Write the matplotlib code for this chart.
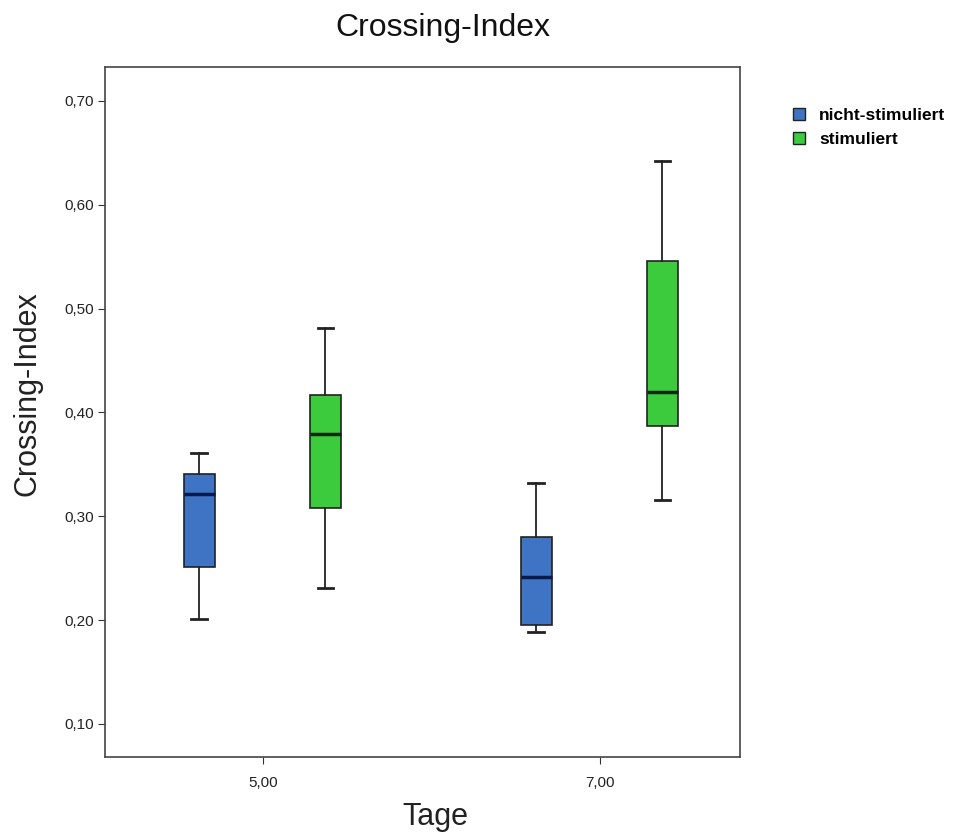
import matplotlib
matplotlib.use("Agg")
import matplotlib.pyplot as plt
from matplotlib.patches import Patch

plt.rcParams['font.family'] = ['Liberation Sans', 'DejaVu Sans']

# --- data
days = ["5,00", "7,00"]
groups = ["nicht-stimuliert", "stimuliert"]
colors = ["#3F74C4", "#3CCB3C"]
median_colors = ["#0A1A4A", "#0B2A0B"]

whislo = {"nicht-stimuliert": [0.201, 0.188], "stimuliert": [0.231, 0.316]}
q1 = {"nicht-stimuliert": [0.251, 0.195], "stimuliert": [0.308, 0.387]}
med = {"nicht-stimuliert": [0.321, 0.241], "stimuliert": [0.379, 0.420]}
q3 = {"nicht-stimuliert": [0.341, 0.280], "stimuliert": [0.417, 0.546]}
whishi = {"nicht-stimuliert": [0.361, 0.332], "stimuliert": [0.481, 0.642]}

yticks = [0.1, 0.2, 0.3, 0.4, 0.5, 0.6, 0.7]

fig = plt.figure(figsize=(9.61, 8.32), dpi=100)
ax = fig.add_axes([0.1093, 0.0901, 0.6607, 0.8294])

offsets = [-0.19, 0.185]
for g, name in enumerate(groups):
    stats = []
    for i in range(len(days)):
        stats.append(dict(whislo=whislo[name][i], q1=q1[name][i], med=med[name][i],
                          q3=q3[name][i], whishi=whishi[name][i], fliers=[]))
    ax.bxp(stats, positions=[i + offsets[g] for i in range(len(days))],
           widths=0.092, patch_artist=True, showfliers=False,
           boxprops=dict(facecolor=colors[g], edgecolor="#222222", linewidth=1.2),
           medianprops=dict(color=median_colors[g], linewidth=2.5),
           whiskerprops=dict(color="#222222", linewidth=1.3),
           capprops=dict(color="#222222", linewidth=2.0))

ax.set_xlim(-0.469, 1.415)
ax.set_ylim(0.068, 0.7327)
ax.set_xticks(range(len(days)))
ax.set_xticklabels(days)
ax.set_yticks(yticks)
ax.set_yticklabels([f"{v:.2f}".replace(".", ",") for v in yticks])
ax.tick_params(axis="both", labelsize=11, color="#333333", labelcolor="#222222",
               length=5, direction="out")
ax.tick_params(axis="x", pad=9)
ax.tick_params(axis="y", pad=3)
for sp in ax.spines.values():
    sp.set_color("#444444")
    sp.set_linewidth(1.2)

ax.set_xlabel("Tage", fontsize=22, labelpad=8, color="#222222")
ax.set_ylabel("Crossing-Index", fontsize=22, labelpad=16, color="#222222")
ax.xaxis.label.set_x(0.52)
ax.yaxis.label.set_y(0.526)
fig.text(0.461, 0.966, "Crossing-Index", fontsize=23, ha="center", va="center",
         color="#111111")

handles = [Patch(facecolor=c, edgecolor="#222222", label=n) for c, n in zip(colors, groups)]
fig.legend(handles=handles, loc="upper left", bbox_to_anchor=(0.825, 0.870),
           frameon=False, prop=dict(weight="bold", size=12.5),
           handlelength=0.7, handleheight=0.7, handletextpad=0.8, labelspacing=0.48,
           borderaxespad=0, borderpad=0)

fig.savefig("out.png", dpi=100)
